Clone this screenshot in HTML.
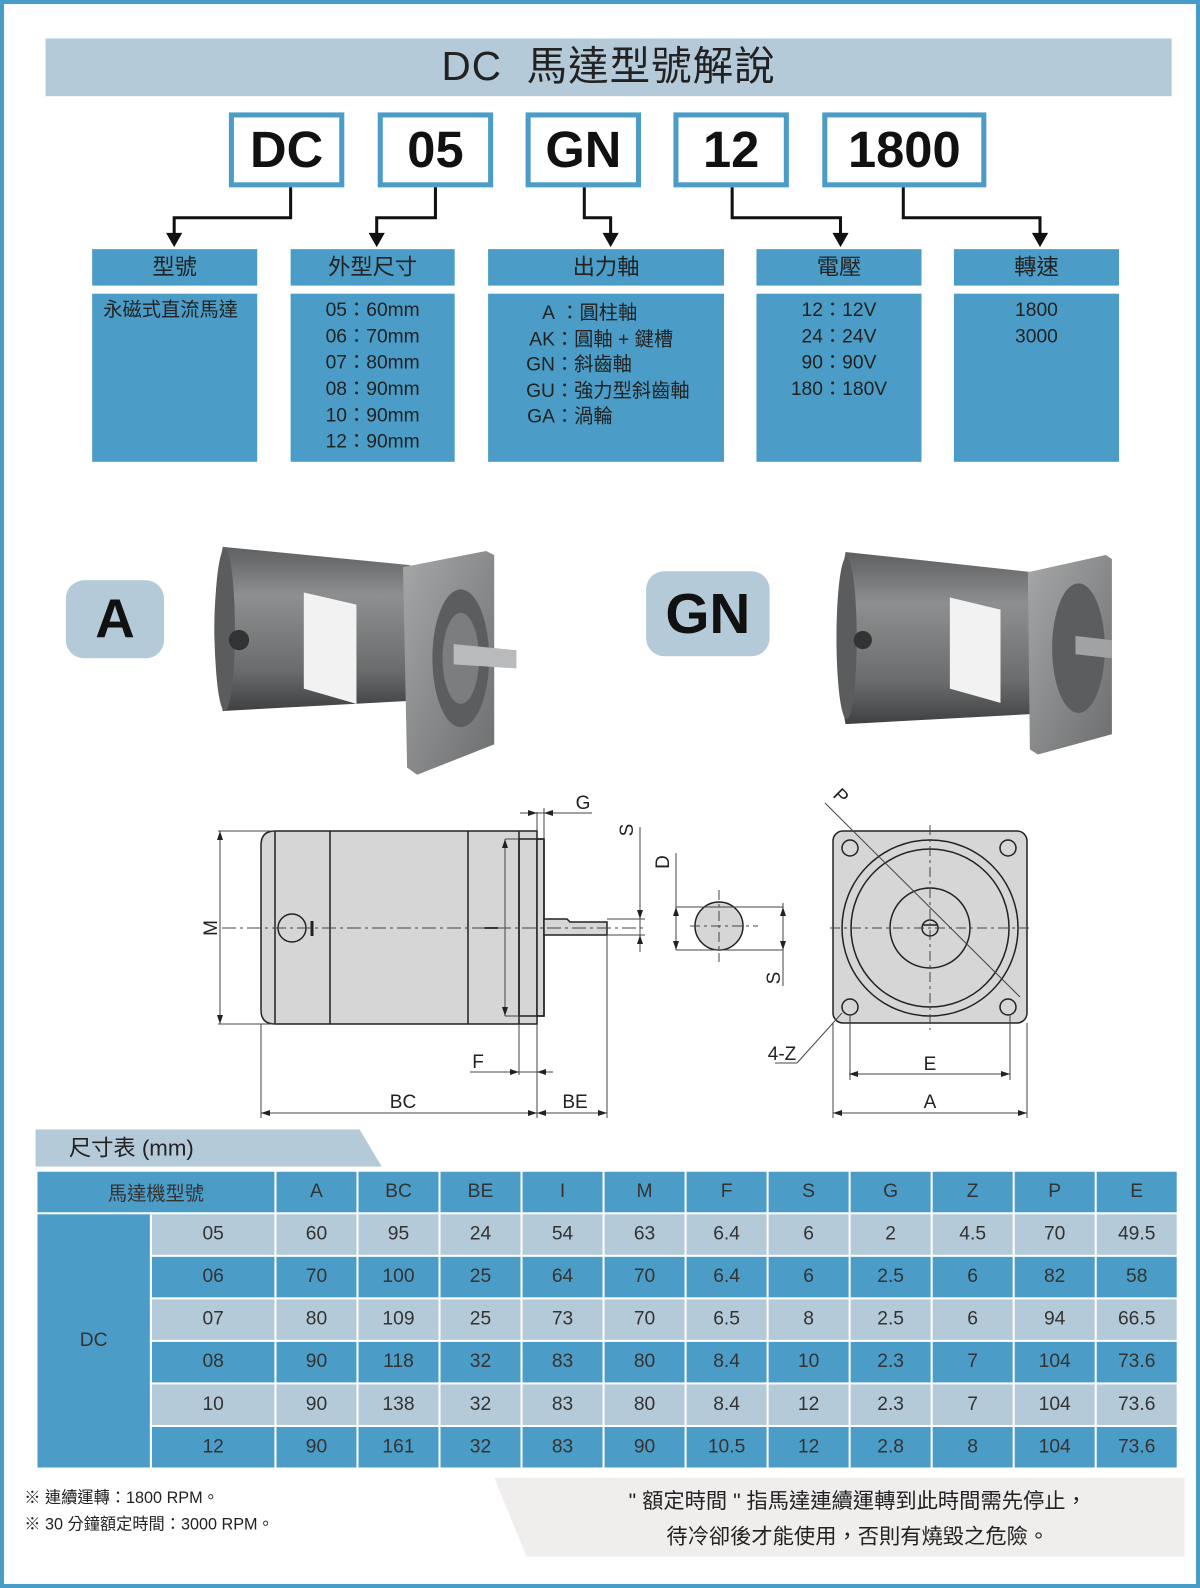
<!DOCTYPE html>
<html><head><meta charset="utf-8"><style>
*{margin:0;padding:0;box-sizing:border-box}
body{width:1200px;height:1588px;overflow:hidden;background:#fff;font-family:"Liberation Sans","Noto Sans CJK TC",sans-serif;color:#222;position:relative}
#s{position:absolute;left:0;top:0;width:1185px;height:1568px;transform:scale(1.01266,1.01276);transform-origin:0 0;border:4px solid #4a9cc8}
.a{position:absolute}
.title{left:41px;top:34px;width:1112px;height:57px;background:#b4cad9;text-align:center;font-size:40px;line-height:57px;letter-spacing:1px}
.code{top:107px;height:74px;border:5px solid #4b9dc7;background:#fff;text-align:center;font-weight:bold;font-size:50px;line-height:64px;color:#111}
.hd{top:242px;height:36px;background:#4b9dc7;text-align:center;font-size:22px;line-height:36px}
.bd{top:286px;height:166px;background:#4b9dc7;font-size:19px;line-height:26px;padding-top:4px}
.lab{background:#b4cad9;border-radius:18px;text-align:center;font-weight:bold;color:#111}
table{position:absolute;left:31px;top:1151px;border-collapse:collapse;font-size:19px;color:#333}
td{border:2px solid #fff;text-align:center;height:42px;padding:0;width:81px}
.b{background:#4b9dc7}.l{background:#b4cad9}
.note{font-size:16px;line-height:26px}
</style></head><body>
<div id="s">
<div class="a title">DC&nbsp; 馬達型號解說</div>
<div class="a code" style="left:222px;width:114px">DC</div>
<div class="a code" style="left:369px;width:114px">05</div>
<div class="a code" style="left:515px;width:114px">GN</div>
<div class="a code" style="left:661px;width:114px">12</div>
<div class="a code" style="left:808px;width:162px">1800</div>
<svg class="a" style="left:-4px;top:-4px" width="1185" height="300">
<g fill="none" stroke="#111" stroke-width="3">
<path d="M287 185V215H172V238"/><path d="M430 185V215H372V238"/><path d="M577 185V215H603V238"/><path d="M723 185V215H830V238"/><path d="M892 185V215H1027V238"/></g>
<g fill="#111"><path d="M164 230h16l-8 14z"/><path d="M364 230h16l-8 14z"/><path d="M595 230h16l-8 14z"/><path d="M822 230h16l-8 14z"/><path d="M1019 230h16l-8 14z"/></g>
</svg>
<div class="a hd" style="left:87px;width:163px">型號</div>
<div class="a hd" style="left:283px;width:162px">外型尺寸</div>
<div class="a hd" style="left:478px;width:233px">出力軸</div>
<div class="a hd" style="left:743px;width:163px">電壓</div>
<div class="a hd" style="left:938px;width:163px">轉速</div>
<div class="a bd" style="left:87px;width:163px;padding-left:11px">永磁式直流馬達</div>
<div class="a bd" style="left:283px;width:162px;text-align:center">05：60mm<br>06：70mm<br>07：80mm<br>08：90mm<br>10：90mm<br>12：90mm</div>
<div class="a bd" style="left:478px;width:233px;padding-left:36px;padding-top:7px;line-height:25.5px"><span style="display:inline-block;width:30px;text-align:right">A</span> ：圓柱軸<br><span style="display:inline-block;width:30px;text-align:right">AK</span>：圓軸 + 鍵槽<br><span style="display:inline-block;width:30px;text-align:right">GN</span>：斜齒軸<br><span style="display:inline-block;width:30px;text-align:right">GU</span>：強力型斜齒軸<br><span style="display:inline-block;width:30px;text-align:right">GA</span>：渦輪</div>
<div class="a bd" style="left:743px;width:163px;text-align:center">12：12V<br>24：24V<br>90：90V<br>180：180V</div>
<div class="a bd" style="left:938px;width:163px;text-align:center">1800<br>3000</div>
<div class="a lab" style="left:61px;top:569px;width:97px;height:77px;font-size:54px;line-height:77px">A</div>
<div class="a lab" style="left:634px;top:560px;width:122px;height:84px;font-size:56px;line-height:84px">GN</div>
<svg class="a" style="left:-4px;top:-4px" width="1185" height="800">
<defs><linearGradient id="g" x1="0" y1="0" x2="0" y2="1"><stop offset="0" stop-color="#5d5f60"/><stop offset=".3" stop-color="#8d8f90"/><stop offset=".75" stop-color="#6a6c6d"/><stop offset="1" stop-color="#3f4041"/></linearGradient>
<linearGradient id="f" x1="0" y1="0" x2="1" y2="1"><stop offset="0" stop-color="#a5a7a8"/><stop offset="1" stop-color="#6c6e6f"/></linearGradient></defs>
<g>
<path d="M220 540 L405 558 L405 692 L220 702 Q203 620 220 540Z" fill="url(#g)"/>
<ellipse cx="222" cy="622" rx="10" ry="80" fill="#5a5c5d"/>
<circle cx="236" cy="632" r="10" fill="#333"/>
<path d="M300 585l52 12v98l-52-15z" fill="#f2f2f2"/>
<path d="M398 560 L480 544 L488 548 L488 735 L412 765 L402 758Z" fill="url(#f)"/>
<ellipse cx="455" cy="650" rx="28" ry="68" fill="#5b5d5e"/>
<ellipse cx="455" cy="650" rx="18" ry="45" fill="#7b7d7e"/>
<path d="M448 636 L510 642 L510 660 L448 656Z" fill="#b8babb"/>
<path d="M835 545 L1020 565 L1020 705 L835 715 Q818 630 835 545Z" fill="url(#g)"/>
<ellipse cx="836" cy="630" rx="10" ry="80" fill="#5a5c5d"/>
<circle cx="852" cy="632" r="9" fill="#333"/>
<path d="M938 590l50 12v92l-50-14z" fill="#f2f2f2"/>
<path d="M1015 565 L1092 548 L1098 552 L1098 725 L1025 745 L1017 740Z" fill="url(#f)"/>
<ellipse cx="1065" cy="640" rx="26" ry="64" fill="#5b5d5e"/>
<path d="M1062 628 L1098 632 L1098 650 L1062 646Z" fill="#a0a2a3"/>
</g></svg>
<div class="a" style="left:31px;top:1111px;width:342px;height:37px;background:#b4cad9;clip-path:polygon(0 0,320px 0,100% 100%,0 100%);font-size:22px;line-height:37px;padding-left:33px">尺寸表 (mm)</div>
<table>
<tr class="b"><td colspan="2" style="width:236px">馬達機型號</td><td>A</td><td>BC</td><td>BE</td><td>I</td><td>M</td><td>F</td><td>S</td><td>G</td><td>Z</td><td>P</td><td>E</td></tr>
<tr class="l"><td rowspan="6" class="b" style="width:113px">DC</td><td style="width:123px">05</td><td>60</td><td>95</td><td>24</td><td>54</td><td>63</td><td>6.4</td><td>6</td><td>2</td><td>4.5</td><td>70</td><td>49.5</td></tr>
<tr class="b"><td>06</td><td>70</td><td>100</td><td>25</td><td>64</td><td>70</td><td>6.4</td><td>6</td><td>2.5</td><td>6</td><td>82</td><td>58</td></tr>
<tr class="l"><td>07</td><td>80</td><td>109</td><td>25</td><td>73</td><td>70</td><td>6.5</td><td>8</td><td>2.5</td><td>6</td><td>94</td><td>66.5</td></tr>
<tr class="b"><td>08</td><td>90</td><td>118</td><td>32</td><td>83</td><td>80</td><td>8.4</td><td>10</td><td>2.3</td><td>7</td><td>104</td><td>73.6</td></tr>
<tr class="l"><td>10</td><td>90</td><td>138</td><td>32</td><td>83</td><td>80</td><td>8.4</td><td>12</td><td>2.3</td><td>7</td><td>104</td><td>73.6</td></tr>
<tr class="b"><td>12</td><td>90</td><td>161</td><td>32</td><td>83</td><td>90</td><td>10.5</td><td>12</td><td>2.8</td><td>8</td><td>104</td><td>73.6</td></tr>
</table>
<div class="a note" style="left:20px;top:1463px">※ 連續運轉：1800 RPM。<br>※ 30 分鐘額定時間：3000 RPM。</div>
<div class="a" style="left:484px;top:1455px;width:682px;height:78px;background:#f0eded;clip-path:polygon(0 0,100% 0,100% 100%,32px 100%)"></div>
<div class="a" style="left:520px;top:1461px;width:646px;text-align:center;font-size:21px;line-height:35px">" 額定時間 " 指馬達連續運轉到此時間需先停止，<br>待冷卻後才能使用，否則有燒毀之危險。</div>
</div>
<svg class="a" style="left:0;top:0" width="1200" height="1588" font-family="Liberation Sans,sans-serif" font-size="19" fill="#222">
<g stroke="#222" stroke-width="1.5">
<path d="M275 831H537V1024H275Q261 1024 261 1010V845Q261 831 275 831Z" fill="#d6d6d6"/>
<path d="M275 831V1024M330 831V1024M468 831V1024M519 831V1024" fill="none"/>
<rect x="537" y="839" width="7" height="177" fill="#d6d6d6"/>
<rect x="519" y="839" width="25" height="177" fill="none"/>
<path d="M544 919H567L570 922H607V935H544Z" fill="#d6d6d6"/>
<circle cx="292" cy="928" r="14" fill="none"/>
<path d="M312 921V936" stroke-width="3"/>
</g>
<g stroke="#444" stroke-width="1" fill="none">
<path d="M222 928H647" stroke-dasharray="14 4 3 4"/>
<path d="M218 831H275M218 1024H275M220 831V1024"/>
<path d="M505 839V1016M505 839H519M505 1016H519"/>
<path d="M537 831V812M544 839V808M520 813H592"/>
<path d="M640 827V952M607 919H645M607 935H645"/>
<path d="M519 1024V1075M537 1024V1118M470 1072H553"/>
<path d="M261 1024V1118M607 935V1118M261 1113H607"/>
</g>
<g fill="#222"><path d="M220 831l-3 9h6zM220 1024l-3-9h6zM505 839l-3 9h6zM505 1016l-3-9h6zM537 813l-9-3v6zM544 813l9-3v6zM640 919l-3-9h6zM640 935l3 9h-6zM519 1072l-9-3v6zM537 1072l9-3v6zM261 1113l9-3v6zM537 1113l-9-3v6zM537 1113l9-3v6zM607 1113l-9-3v6z"/></g>
<text x="212" y="928" transform="rotate(-90 212 928)" text-anchor="middle" dominant-baseline="middle">M</text>
<text x="493" y="928" transform="rotate(-90 493 928)" text-anchor="middle" dominant-baseline="middle">I</text>
<text x="583" y="809" text-anchor="middle">G</text>
<text x="628" y="830" transform="rotate(-90 628 830)" text-anchor="middle" dominant-baseline="middle">S</text>
<text x="478" y="1068" text-anchor="middle">F</text>
<text x="403" y="1108" text-anchor="middle">BC</text>
<text x="575" y="1108" text-anchor="middle">BE</text>
<g stroke="#222" stroke-width="1.5">
<rect x="833" y="831" width="194" height="192" rx="10" fill="#d6d6d6"/>
<circle cx="930" cy="928" r="88" fill="none"/><circle cx="930" cy="928" r="79" fill="none"/><circle cx="930" cy="928" r="40" fill="none"/>
<circle cx="930" cy="928" r="8" fill="none"/><path d="M922 925h16" />
<circle cx="850" cy="848" r="8" fill="none"/><circle cx="1008" cy="848" r="8" fill="none"/><circle cx="850" cy="1007" r="8" fill="none"/><circle cx="1008" cy="1007" r="8" fill="none"/>
<circle cx="719" cy="926" r="24" fill="#d6d6d6"/>
</g>
<g stroke="#444" stroke-width="1" fill="none">
<path d="M830 928H1030M930 825V1030M719 890V962M690 926H758" stroke-dasharray="10 4 3 4"/>
<path d="M825 803L1020 997"/>
<path d="M676 853V950M676 907H783M676 950H783M783 903V986"/>
<path d="M797 1063H775M797 1063L842 1013"/>
<path d="M850 1015V1080M1010 1015V1080M849 1074H1010M833 1023V1118M1027 1023V1118M833 1113H1027"/>
</g>
<g fill="#222"><path d="M676 907l-3 9h6zM676 950l-3-9h6zM783 907l-3 9h6zM783 950l-3-9h6zM849 1074l9-3v6zM1010 1074l-9-3v6zM833 1113l9-3v6zM1027 1113l-9-3v6z"/></g>
<text x="840" y="797" transform="rotate(45 840 797)" text-anchor="middle" dominant-baseline="middle">P</text>
<text x="664" y="862" transform="rotate(-90 664 862)" text-anchor="middle" dominant-baseline="middle">D</text>
<text x="775" y="978" transform="rotate(-90 775 978)" text-anchor="middle" dominant-baseline="middle">S</text>
<text x="782" y="1060" text-anchor="middle">4-Z</text>
<text x="930" y="1070" text-anchor="middle">E</text>
<text x="930" y="1108" text-anchor="middle">A</text>
</svg>
</body></html>
